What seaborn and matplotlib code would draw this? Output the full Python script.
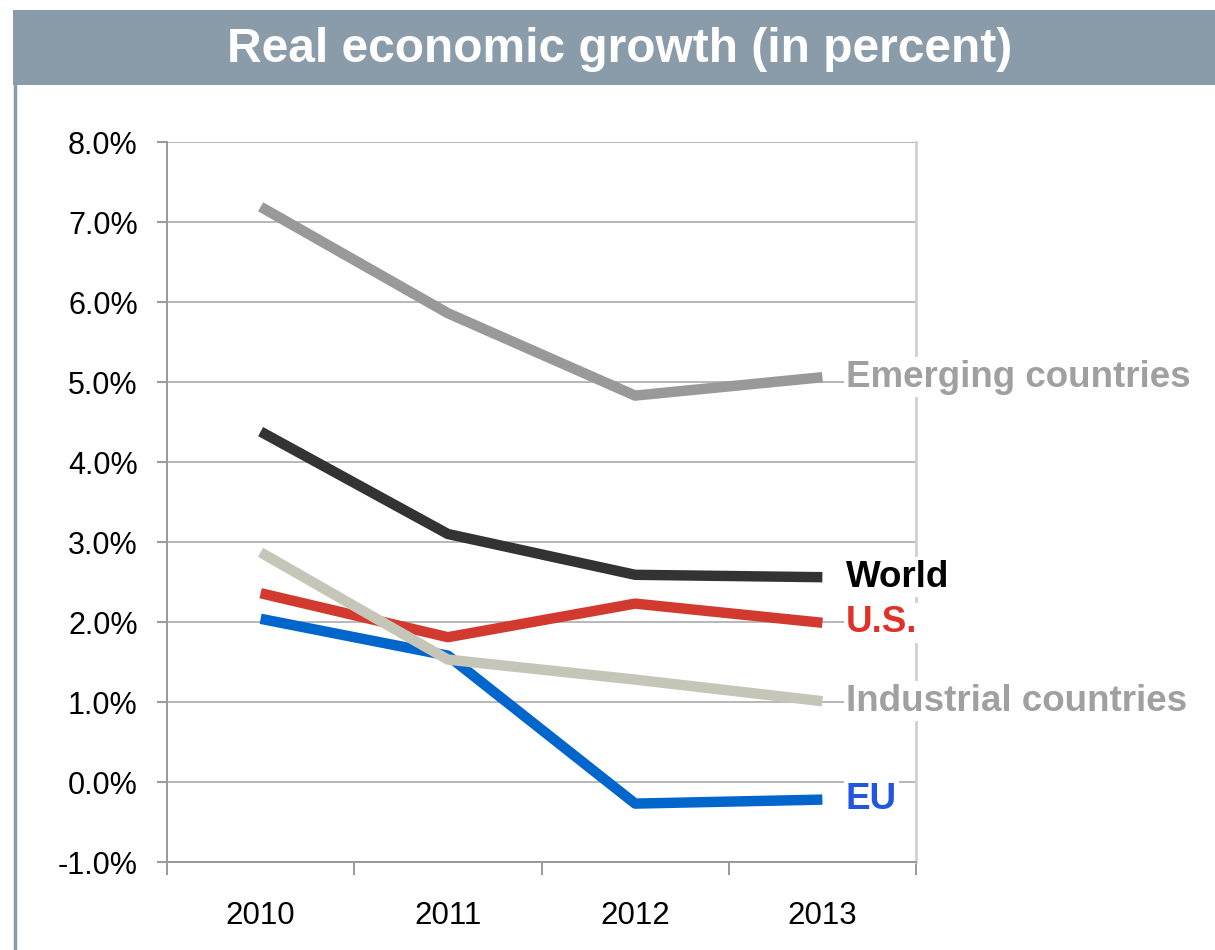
import pandas as pd
import numpy as np
import matplotlib.pyplot as plt
import seaborn as sns
from matplotlib.patches import Rectangle
from matplotlib.lines import Line2D

years = ["2010", "2011", "2012", "2013"]
emerging = [7.19, 5.86, 4.83, 5.06]
world = [4.38, 3.10, 2.59, 2.56]
us = [2.36, 1.81, 2.23, 1.99]
eu = [2.04, 1.58, -0.27, -0.22]
industrial = [2.87, 1.53, 1.28, 1.01]

series_names = ["Emerging countries", "World", "U.S.", "EU", "Industrial countries"]
series_values = [emerging, world, us, eu, industrial]
line_colors = ["#999999", "#333333", "#d33a2f", "#0066cc", "#c6c6b8"]
label_colors = ["#a0a0a0", "#000000", "#e0302a", "#2255e0", "#a0a0a0"]

# long-form table for seaborn
df = pd.DataFrame({
    "year": years * len(series_names),
    "growth": np.concatenate(series_values),
    "series": np.repeat(series_names, len(years)),
})

sns.set_theme(style="white")
plt.rcParams["font.family"] = ["Liberation Sans", "DejaVu Sans"]

fig = plt.figure(figsize=(12.15, 9.5), dpi=100)

# ==========================================
# title banner + left frame line
# ==========================================
fig.patches.append(Rectangle((13 / 1215, 1 - 85 / 950), 1 - 13 / 1215, 75 / 950,
                             transform=fig.transFigure, facecolor="#8a9baa",
                             edgecolor="none", zorder=0))
fig.lines.append(Line2D([14.5 / 1215, 14.5 / 1215], [0, 1 - 85 / 950],
                        transform=fig.transFigure, color="#8a9baa", lw=2.5))
fig.text(620 / 1215, 1 - 50 / 950, "Real economic growth (in percent)",
         ha="center", va="center", color="white", fontsize=34.5, fontweight="bold")

# ==========================================
# chart
# ==========================================
ax = fig.add_axes([167 / 1215, 88 / 950, 749 / 1215, 720 / 950])
sns.lineplot(data=df, x="year", y="growth", hue="series",
             hue_order=series_names, palette=dict(zip(series_names, line_colors)),
             linewidth=7.5, legend=False, ax=ax, sort=False)

ax.set_xlim(-0.5, 3.5)
ax.set_ylim(-1, 8)
ax.set_yticks(np.arange(-1, 9, 1))
ax.set_yticklabels([f"{v:.1f}%" for v in np.arange(-1, 9, 1)])
ax.set_xticks(range(len(years)))
ax.set_xticklabels(years)
ax.set_xticks(np.arange(-0.5, 4, 1), minor=True)
ax.tick_params(axis="x", which="major", length=0, pad=28, labelsize=22.5, colors="black")
ax.tick_params(axis="x", which="minor", length=9, width=1.2, color="#888888", bottom=True)
ax.tick_params(axis="y", length=7, width=1.2, color="#888888", left=True, pad=14,
               labelsize=22, labelcolor="black")
ax.set_xlabel("")
ax.set_ylabel("")
ax.yaxis.grid(True, color="#b8b8b8", lw=1.4)
ax.set_axisbelow(True)

for side in ["left", "bottom"]:
    ax.spines[side].set_color("#999999")
    ax.spines[side].set_linewidth(1.4)
ax.spines["top"].set_visible(False)
ax.spines["right"].set_color("#d0d0d0")
ax.spines["right"].set_linewidth(2)

# draw industrial line on top (as in the original)
for ln in ax.lines:
    ln.set_solid_capstyle("butt")
ax.lines[4].set_zorder(3)

# end labels
for name, vals, col in zip(series_names, series_values, label_colors):
    ax.annotate(name, xy=(3, vals[-1]), xytext=(17, 0), textcoords="offset points",
                ha="left", va="center", color=col, fontsize=26.5, fontweight="bold",
                bbox=dict(facecolor="white", edgecolor="none", pad=1.5),
                annotation_clip=False, zorder=5)

fig.savefig("out.png", dpi=100, facecolor="white")
